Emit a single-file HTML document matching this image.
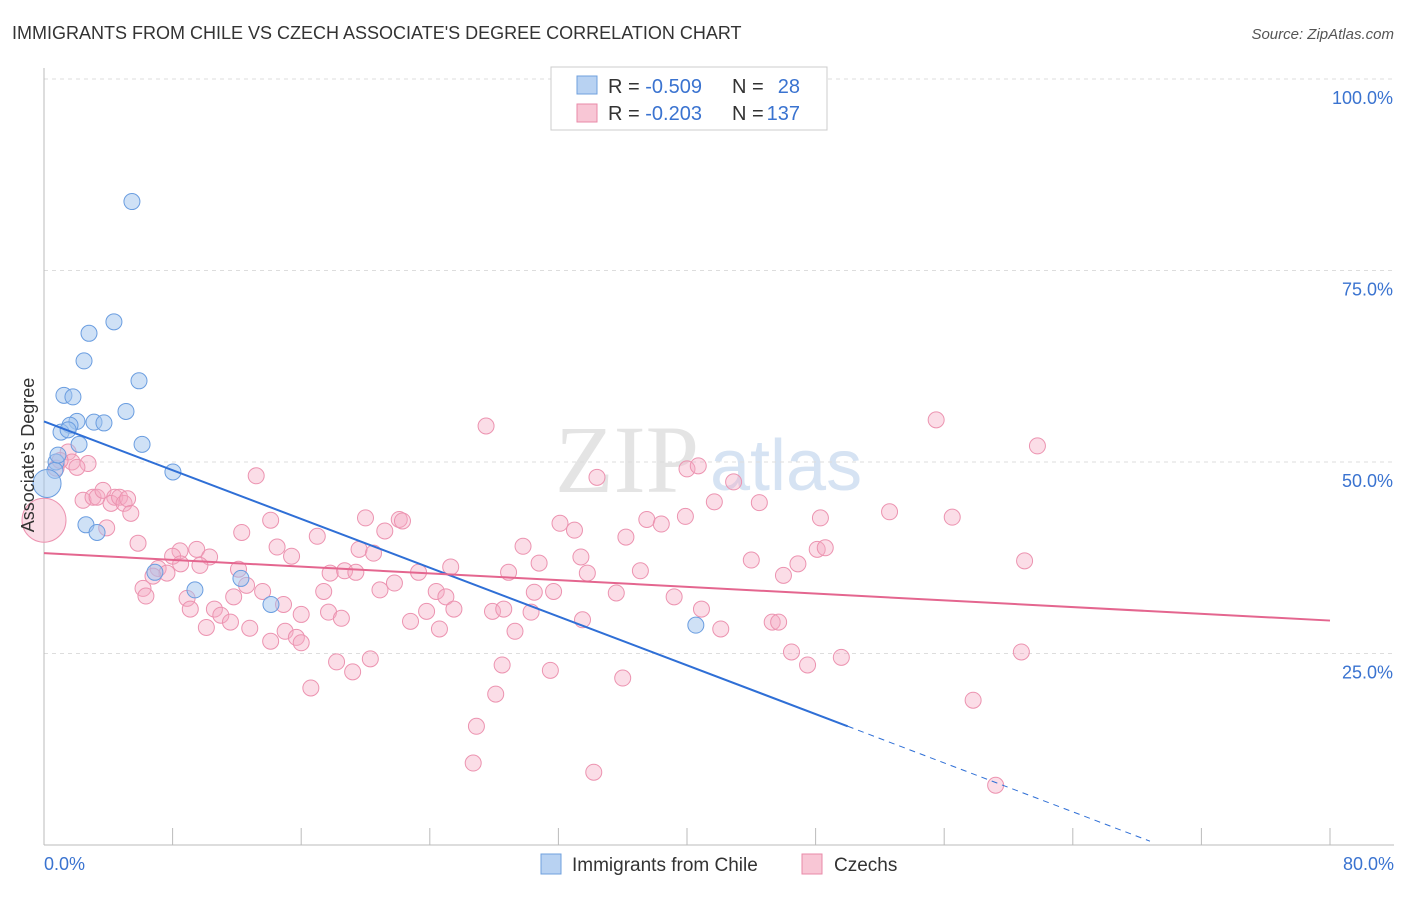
<!DOCTYPE html>
<html><head><meta charset="utf-8"><style>
body{margin:0;background:#fff;font-family:"Liberation Sans",sans-serif;}
</style></head><body>
<svg id="chart" width="1406" height="892" xmlns="http://www.w3.org/2000/svg" font-family="Liberation Sans, sans-serif">
<text x="12" y="39" font-size="18" fill="#333">IMMIGRANTS FROM CHILE VS CZECH ASSOCIATE'S DEGREE CORRELATION CHART</text>
<text x="1394" y="39" font-size="15" fill="#555" font-style="italic" text-anchor="end">Source: ZipAtlas.com</text>
<text x="555" y="492" font-size="96" fill="#e4e4e4" font-family="Liberation Serif, serif">ZIP</text>
<text x="710" y="490" font-size="72" fill="#d6e3f3">atlas</text>
<g id="grid"></g><g id="axes"></g><g id="pts"></g><g id="lines"></g>
<text transform="translate(34,455) rotate(-90)" font-size="18" fill="#333" text-anchor="middle">Associate's Degree</text>
<g>
<rect x="551" y="67" width="276" height="63" fill="#fff" stroke="#ccc"/>
<rect x="577" y="76" width="20" height="18" fill="#b8d2f2" stroke="#6fa0de"/>
<rect x="577" y="104" width="20" height="18" fill="#f8c6d5" stroke="#e98aa8"/>
<text x="608" y="93" font-size="20" fill="#333">R = <tspan fill="#3a73d0">-0.509</tspan></text>
<text x="732" y="93" font-size="20" fill="#333">N =</text>
<text x="800" y="93" font-size="20" fill="#3a73d0" text-anchor="end">28</text>
<text x="608" y="120" font-size="20" fill="#333">R = <tspan fill="#3a73d0">-0.203</tspan></text>
<text x="732" y="120" font-size="20" fill="#333">N =</text>
<text x="800" y="120" font-size="20" fill="#3a73d0" text-anchor="end">137</text>
</g>
<g>
<rect x="541" y="854" width="20" height="20" fill="#b8d2f2" stroke="#6fa0de"/>
<text x="572" y="871" font-size="19" fill="#333">Immigrants from Chile</text>
<rect x="802" y="854" width="20" height="20" fill="#f8c6d5" stroke="#e98aa8"/>
<text x="834" y="871" font-size="19" fill="#333">Czechs</text>
</g>
</svg>
<script>
const yTicks=[25,50,75,100];
const yTickLabels=["25.0%","50.0%","75.0%","100.0%"];
const xTickCount=10;
const xEndLabels=["0.0%","80.0%"];
const chileX=[5.47,4.35,2.80,2.49,5.91,1.24,1.80,5.10,2.05,3.11,3.73,1.62,1.06,2.18,6.10,0.75,0.68,8.02,0.19,2.61,3.30,9.39,6.9,12.25,14.12,40.55,1.5,0.87];
const chileY=[84.0,68.3,66.8,63.2,60.6,58.7,58.5,56.6,55.3,55.2,55.1,54.8,53.9,52.3,52.3,50.0,48.9,48.7,47.2,41.8,40.8,33.3,35.6,34.8,31.4,28.7,54.2,50.9];
const czechX=[27.5,55.5,61.8,13.2,34.4,40.0,40.7,42.9,41.7,44.5,52.6,56.5,48.3,39.9,37.5,38.4,32.1,33.0,36.2,29.8,20.0,22.1,22.3,21.2,14.1,12.3,17.0,14.5,15.4,19.6,20.5,5.85,8.46,9.5,10.3,8.0,8.5,9.7,7.1,7.65,6.78,12.1,12.6,17.8,18.7,19.4,23.3,25.3,28.9,30.8,33.4,33.8,37.1,44.0,46.0,46.9,48.1,48.6,61.0,6.16,6.34,8.9,9.1,10.6,11.8,11.0,11.6,10.1,12.8,13.6,14.9,16.0,17.4,17.7,18.5,20.9,21.8,24.4,25.0,23.8,25.5,22.8,24.6,27.9,28.6,30.3,31.7,30.5,35.6,39.2,40.9,42.1,33.5,29.3,45.3,45.7,15.0,15.7,14.1,16.0,46.5,47.5,49.6,60.8,18.2,20.3,19.2,28.5,31.5,16.6,28.1,36.0,57.8,26.9,26.7,34.2,59.2,0.75,1.5,1.74,2.74,2.05,0,2.43,3.05,3.3,3.67,4.4,4.17,4.7,4.98,5.2,5.4,3.9,1.0];
const czechY=[54.7,55.5,52.1,48.2,48.0,49.1,49.5,47.4,44.8,44.7,43.5,42.8,42.7,42.9,42.5,41.9,42.0,41.1,40.2,39.0,42.7,42.5,42.3,41.0,42.4,40.8,40.3,38.9,37.7,38.6,38.1,39.4,38.4,38.6,37.6,37.7,36.7,36.5,36.1,35.5,35.1,36.0,33.9,35.5,35.8,35.6,35.6,36.3,35.6,36.8,37.6,35.5,35.8,37.2,35.2,36.7,38.6,38.8,37.1,33.5,32.5,32.2,30.8,30.8,32.4,30.0,29.1,28.4,28.3,33.1,31.4,30.1,33.1,30.4,29.6,33.3,34.2,33.1,32.4,30.5,30.8,29.2,28.2,30.5,30.8,30.4,33.1,33.0,32.9,32.4,30.8,28.2,29.4,27.9,29.1,29.1,27.9,27.1,26.6,26.4,25.2,23.5,24.5,25.2,23.9,24.3,22.6,23.5,22.8,20.5,19.7,21.8,18.9,15.5,10.7,9.5,7.8,49.2,51.3,50.0,49.8,49.3,42.4,45.0,45.4,45.4,46.3,45.4,44.6,45.4,44.6,45.2,43.3,41.4,50.2];
const chileR=[8,8,8,8,8,8,8,8,8,8,8,8,8,8,8,8,8,8,14,8,8,8,8,8,8,8,8,8];
const chileTrend=[55.3,15.5];const chileTrendEnd=[50,0.5];
const czechTrend=[38.1,29.3];
const NS='http://www.w3.org/2000/svg';
const px=v=>44+v/80*1286, py=v=>845-v/100*766;
function mk(t,a,p){const e=document.createElementNS(NS,t);for(const k in a)e.setAttribute(k,a[k]);document.getElementById(p).appendChild(e);return e;}
yTicks.forEach((t,i)=>{
 const g=mk('line',{x1:44,x2:1394,y1:py(t),y2:py(t),stroke:'#ddd','stroke-dasharray':'4,4'},'grid');
 
 
 const l=mk('text',{x:1393,y:py(t)+25,'font-size':18,fill:'#3a73d0','text-anchor':'end'},'axes');l.textContent=yTickLabels[i];
 
 
});
const ya=mk('line',{x1:44,x2:44,y1:68,y2:845,stroke:'#bbb'},'axes');


const xa=mk('line',{x1:44,x2:1394,y1:845,y2:845,stroke:'#bbb'},'axes');


for(let i=0;i<=xTickCount;i++){const t=mk('line',{x1:px(i*8),x2:px(i*8),y1:828,y2:845,stroke:'#bbb'},'axes');
 
 }
[[0,'start',44],[80,'end',1394]].forEach((d,i)=>{const l=mk('text',{x:d[2],y:870,'font-size':18,fill:'#3a73d0','text-anchor':d[1]},'axes');l.textContent=xEndLabels[i];
 
 });
czechX.forEach((v,i)=>{const c=mk('circle',{cx:px(v),cy:py(czechY[i]),r:(v===0?22:8),fill:'rgba(245,170,195,0.4)',stroke:'#ec93b0','stroke-width':1},'pts');
 
 });
chileX.forEach((v,i)=>{const c=mk('circle',{cx:px(v),cy:py(chileY[i]),r:chileR[i],fill:'rgba(160,195,238,0.5)',stroke:'#6a9de0','stroke-width':1},'pts');
 
 });
const l1=mk('line',{x1:px(0),y1:py(chileTrend[0]),x2:px(chileTrendEnd[0]),y2:py(chileTrend[1]),stroke:'#2f6fd6','stroke-width':2},'lines');


const l2=mk('line',{x1:px(chileTrendEnd[0]),y1:py(chileTrend[1]),x2:px(68.8),y2:py(chileTrendEnd[1]),stroke:'#2f6fd6','stroke-width':1,'stroke-dasharray':'6,5'},'lines');


const l3=mk('line',{x1:px(0),y1:py(czechTrend[0]),x2:px(80),y2:py(czechTrend[1]),stroke:'#e4668f','stroke-width':2},'lines');


const topGrid=mk('line',{x1:44,x2:1394,y1:py(100),y2:py(100),stroke:'#ddd','stroke-dasharray':'4,4'},'grid');


</script>
</body></html>
